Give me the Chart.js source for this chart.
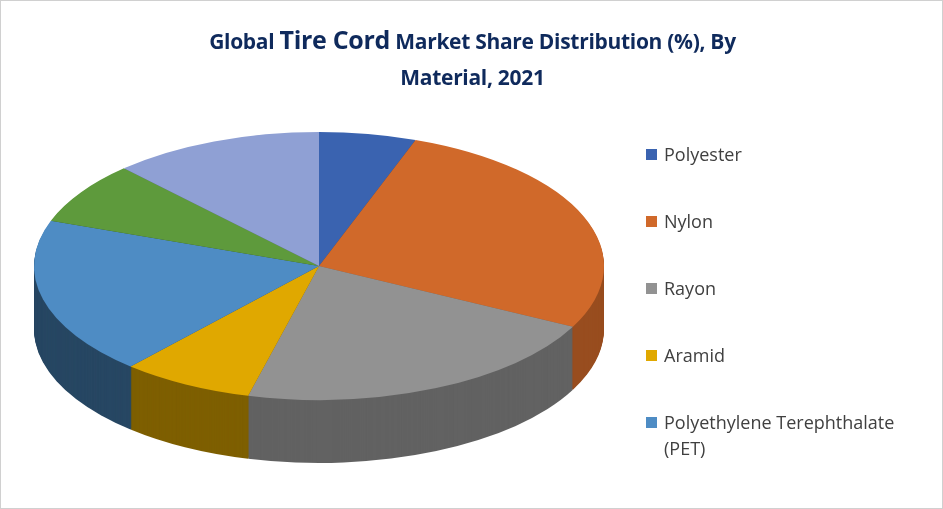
<!DOCTYPE html>
<html>
<head>
<meta charset="utf-8">
<script src="https://cdn.jsdelivr.net/npm/chart.js@4.4.1/dist/chart.umd.min.js"></script>
<style>
  body { margin: 0; background: #fff; font-family: "Open Sans", sans-serif; }
  #wrap { position: relative; width: 941px; height: 507px; border: 1px solid #d0d0d0; overflow: hidden; }
  #title { position: absolute; top: 20px; left: 0; width: 943px; text-align: center; color: #0f2a5c;
           font-weight: bold; font-size: 21px; line-height: 36px; letter-spacing: -0.3px; }
  #title .big { font-size: 25px; }
  canvas { position: absolute; left: 0; top: 0; }
  #legend { position: absolute; left: 645px; top: 140px; color: #404040; font-size: 18px; }
  #legend div { position: relative; padding-left: 18px; margin-bottom: 41px; line-height: 26px; }
  #legend span { position: absolute; left: 0; top: 8px; width: 11px; height: 11px; }
</style>
</head>
<body>
<div id="wrap">
  <canvas id="pie" width="943" height="509"></canvas>
  <div id="title">Global <span class="big">Tire Cord</span> Market Share Distribution (%), By<br>Material, 2021</div>
  <div id="legend"></div>
</div>
<script>
const categories = ['Polyester', 'Nylon', 'Rayon', 'Aramid', 'Polyethylene Terephthalate (PET)', 'Steel', 'Others'];
const shares = [5.5, 27, 21.5, 7.5, 19, 7.5, 12];
const colors = ['#3a63b0', '#d0692a', '#929292', '#e0a800', '#4e8cc4', '#5e9a3c', '#8fa0d4'];
const legendCount = 5;

// legend (first five entries, like the reference)
const legend = document.getElementById('legend');
categories.slice(0, legendCount).forEach((c, i) => {
    const label = i === 4 ? 'Polyethylene Terephthalate<br>(PET)' : c;
    legend.innerHTML += `<div><span style="background:${colors[i]}"></span>${label}</div>`;
});

function shade(hex, f) {
    const n = parseInt(hex.slice(1), 16);
    const r = Math.round(((n >> 16) & 255) * f), g = Math.round(((n >> 8) & 255) * f), b = Math.round((n & 255) * f);
    return `rgb(${r},${g},${b})`;
}

const CX = 318, CY = 265, R = 285, TILT = 0.47, DEPTH = 63;

// squash the pie into an ellipse and extrude a side wall
const tilt3d = {
    id: 'tilt3d',
    beforeDatasetsDraw(chart) {
        const ctx = chart.ctx;
        const arcs = chart.getDatasetMeta(0).data;
        const k = R / arcs[0].outerRadius;
        for (let d = DEPTH; d >= 1; d--) {
            arcs.forEach((a, i) => {
                ctx.save();
                ctx.translate(CX, CY + d);
                ctx.scale(k, k * TILT);
                ctx.translate(-a.x, -a.y);
                ctx.beginPath();
                ctx.moveTo(a.x, a.y);
                ctx.arc(a.x, a.y, a.outerRadius, a.startAngle, a.endAngle);
                ctx.closePath();
                const mid = Math.cos((a.startAngle + a.endAngle) / 2);
                ctx.fillStyle = shade(colors[i], 0.62 + 0.12 * mid);
                ctx.fill();
                ctx.restore();
            });
        }
        ctx.save();
        ctx.translate(CX, CY);
        ctx.scale(k, k * TILT);
        ctx.translate(-arcs[0].x, -arcs[0].y);
    },
    afterDatasetsDraw(chart) {
        chart.ctx.restore();
    }
};

new Chart(document.getElementById('pie').getContext('2d'), {
    type: 'pie',
    data: {
        labels: categories,
        datasets: [{
            data: shares,
            backgroundColor: colors,
            borderWidth: 0,
            clip: false
        }]
    },
    options: {
        responsive: false,
        animation: false,
        events: [],
        plugins: {
            legend: { display: false },
            tooltip: { enabled: false }
        }
    },
    plugins: [tilt3d]
});
</script>
</body>
</html>
